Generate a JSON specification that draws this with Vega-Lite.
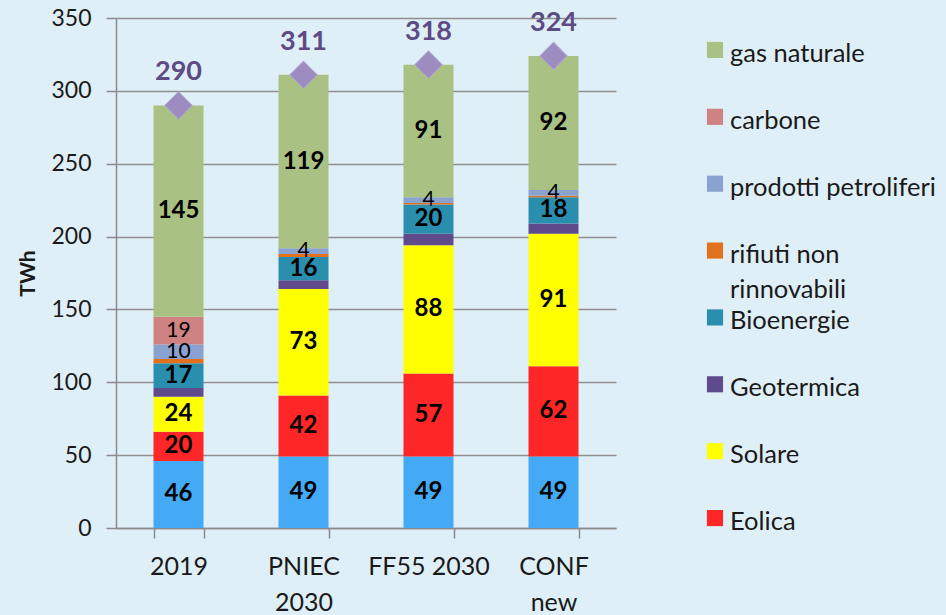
{
  "$schema": "https://vega.github.io/schema/vega-lite/v6.json",
  "autosize": "none",
  "padding": {"left": 116, "top": 18, "right": 830, "bottom": 597},
  "background": "#dfeff7",
  "config": {"font": "Lato", "view": {"stroke": null}},
  "bounds": "flush",
  "spacing": 99,
  "datasets": {
    "fonti": [
      {"scenario": "2019", "fonte": "Idroelettrica", "twh": 46},
      {"scenario": "2019", "fonte": "Eolica", "twh": 20},
      {"scenario": "2019", "fonte": "Solare", "twh": 24},
      {"scenario": "2019", "fonte": "Geotermica", "twh": 6},
      {"scenario": "2019", "fonte": "Bioenergie", "twh": 17},
      {"scenario": "2019", "fonte": "rifiuti non rinnovabili", "twh": 3},
      {"scenario": "2019", "fonte": "prodotti petroliferi", "twh": 10},
      {"scenario": "2019", "fonte": "carbone", "twh": 19},
      {"scenario": "2019", "fonte": "gas naturale", "twh": 145},
      {"scenario": "PNIEC 2030", "fonte": "Idroelettrica", "twh": 49},
      {"scenario": "PNIEC 2030", "fonte": "Eolica", "twh": 42},
      {"scenario": "PNIEC 2030", "fonte": "Solare", "twh": 73},
      {"scenario": "PNIEC 2030", "fonte": "Geotermica", "twh": 6},
      {"scenario": "PNIEC 2030", "fonte": "Bioenergie", "twh": 16},
      {"scenario": "PNIEC 2030", "fonte": "rifiuti non rinnovabili", "twh": 2},
      {"scenario": "PNIEC 2030", "fonte": "prodotti petroliferi", "twh": 4},
      {"scenario": "PNIEC 2030", "fonte": "carbone", "twh": 0},
      {"scenario": "PNIEC 2030", "fonte": "gas naturale", "twh": 119},
      {"scenario": "FF55 2030", "fonte": "Idroelettrica", "twh": 49},
      {"scenario": "FF55 2030", "fonte": "Eolica", "twh": 57},
      {"scenario": "FF55 2030", "fonte": "Solare", "twh": 88},
      {"scenario": "FF55 2030", "fonte": "Geotermica", "twh": 8},
      {"scenario": "FF55 2030", "fonte": "Bioenergie", "twh": 20},
      {"scenario": "FF55 2030", "fonte": "rifiuti non rinnovabili", "twh": 1},
      {"scenario": "FF55 2030", "fonte": "prodotti petroliferi", "twh": 4},
      {"scenario": "FF55 2030", "fonte": "carbone", "twh": 0},
      {"scenario": "FF55 2030", "fonte": "gas naturale", "twh": 91},
      {"scenario": "CONF new", "fonte": "Idroelettrica", "twh": 49},
      {"scenario": "CONF new", "fonte": "Eolica", "twh": 62},
      {"scenario": "CONF new", "fonte": "Solare", "twh": 91},
      {"scenario": "CONF new", "fonte": "Geotermica", "twh": 7},
      {"scenario": "CONF new", "fonte": "Bioenergie", "twh": 18},
      {"scenario": "CONF new", "fonte": "rifiuti non rinnovabili", "twh": 1},
      {"scenario": "CONF new", "fonte": "prodotti petroliferi", "twh": 4},
      {"scenario": "CONF new", "fonte": "carbone", "twh": 0},
      {"scenario": "CONF new", "fonte": "gas naturale", "twh": 92}
    ],
    "totali": [
      {"scenario": "2019", "totale": 290},
      {"scenario": "PNIEC 2030", "totale": 311},
      {"scenario": "FF55 2030", "totale": 318},
      {"scenario": "CONF new", "totale": 324}
    ],
    "legenda": [
      {"fonte": "gas naturale"},
      {"fonte": "carbone"},
      {"fonte": "prodotti petroliferi"},
      {"fonte": "rifiuti non rinnovabili"},
      {"fonte": "Bioenergie"},
      {"fonte": "Geotermica"},
      {"fonte": "Solare"},
      {"fonte": "Eolica"}
    ]
  },
  "hconcat": [
    {
      "width": 500,
      "height": 510,
      "view": {"stroke": null},
      "encoding": {
        "x": {
          "field": "scenario", "type": "nominal",
          "scale": {"domain": ["2019", "PNIEC 2030", "FF55 2030", "CONF new"], "paddingInner": 0.6, "paddingOuter": 0.3},
          "axis": {
            "title": null, "labelAngle": 0, "labelFontSize": 25, "labelColor": "#1a1a1a",
            "labelPadding": 16, "labelLineHeight": 36, "labelBaseline": "top",
            "tickBand": "extent", "tickSize": 10, "tickColor": "#8a8a8a", "tickWidth": 1.5,
            "domainColor": "#8a8a8a", "domainWidth": 1.5, "grid": false,
            "labelExpr": "datum.label == 'PNIEC 2030' ? ['PNIEC', '2030'] : datum.label == 'CONF new' ? ['CONF', 'new'] : datum.label"
          }
        }
      },
      "layer": [
        {
          "data": {"name": "fonti"},
          "transform": [
            {"calculate": "indexof(['Idroelettrica','Eolica','Solare','Geotermica','Bioenergie','rifiuti non rinnovabili','prodotti petroliferi','carbone','gas naturale'], datum.fonte)", "as": "ord"},
            {"stack": "twh", "groupby": ["scenario"], "sort": [{"field": "ord", "order": "ascending"}], "as": ["y0", "y1"]}
          ],
          "mark": {"type": "bar"},
          "encoding": {
            "y": {
              "field": "y0", "type": "quantitative",
              "scale": {"domain": [0, 350], "nice": false},
              "axis": {
                "title": "TWh", "titleFontSize": 21, "titleFontWeight": "bold", "titleColor": "#1a1a1a", "titlePadding": 12,
                "values": [0, 50, 100, 150, 200, 250, 300, 350],
                "labelFontSize": 23, "labelColor": "#1a1a1a", "labelPadding": 15,
                "tickSize": 10, "tickColor": "#8a8a8a", "tickWidth": 1.5,
                "domainColor": "#8a8a8a", "domainWidth": 1.5,
                "grid": true, "gridColor": "#8f8f8f", "gridWidth": 1.3
              }
            },
            "y2": {"field": "y1"},
            "color": {
              "field": "fonte", "type": "nominal",
              "scale": {
                "domain": ["gas naturale", "carbone", "prodotti petroliferi", "rifiuti non rinnovabili", "Bioenergie", "Geotermica", "Solare", "Eolica", "Idroelettrica"],
                "range": ["#a9c283", "#cf8282", "#8aa2cf", "#e2711d", "#2a8fae", "#5f4a8b", "#ffff00", "#fe2626", "#44aaf6"]
              },
              "legend": null
            }
          }
        },
        {
          "data": {"name": "fonti"},
          "transform": [
            {"calculate": "indexof(['Idroelettrica','Eolica','Solare','Geotermica','Bioenergie','rifiuti non rinnovabili','prodotti petroliferi','carbone','gas naturale'], datum.fonte)", "as": "ord"},
            {"stack": "twh", "groupby": ["scenario"], "sort": [{"field": "ord", "order": "ascending"}], "as": ["y0", "y1"]},
            {"calculate": "(datum.y0 + datum.y1) / 2", "as": "mid"},
            {"filter": "indexof(['Idroelettrica','Eolica','Solare','Bioenergie','gas naturale'], datum.fonte) >= 0"}
          ],
          "mark": {"type": "text", "fontSize": 24, "fontWeight": "bold", "color": "#000000", "baseline": "middle"},
          "encoding": {
            "y": {"field": "mid", "type": "quantitative"},
            "text": {"field": "twh", "type": "quantitative"}
          }
        },
        {
          "data": {"name": "fonti"},
          "transform": [
            {"calculate": "indexof(['Idroelettrica','Eolica','Solare','Geotermica','Bioenergie','rifiuti non rinnovabili','prodotti petroliferi','carbone','gas naturale'], datum.fonte)", "as": "ord"},
            {"stack": "twh", "groupby": ["scenario"], "sort": [{"field": "ord", "order": "ascending"}], "as": ["y0", "y1"]},
            {"calculate": "(datum.y0 + datum.y1) / 2", "as": "mid"},
            {"filter": "(datum.fonte == 'carbone' || datum.fonte == 'prodotti petroliferi') && datum.twh > 0"}
          ],
          "mark": {"type": "text", "fontSize": 21, "color": "#000000", "baseline": "middle"},
          "encoding": {
            "y": {"field": "mid", "type": "quantitative"},
            "text": {"field": "twh", "type": "quantitative"}
          }
        },
        {
          "data": {"name": "totali"},
          "mark": {"type": "point", "shape": "diamond", "filled": true, "size": 760, "color": "#9c8cc0", "stroke": "#b5a8d6", "strokeWidth": 1, "opacity": 1},
          "encoding": {
            "y": {"field": "totale", "type": "quantitative"}
          }
        },
        {
          "data": {"name": "totali"},
          "mark": {"type": "text", "fontSize": 27, "fontWeight": "bold", "color": "#5e4a84", "baseline": "middle", "dy": -33},
          "encoding": {
            "y": {"field": "totale", "type": "quantitative"},
            "text": {"field": "totale", "type": "quantitative"}
          }
        }
      ]
    },
    {
      "width": 220,
      "height": 532,
      "view": {"stroke": null, "fill": null},
      "data": {"name": "legenda"},
      "encoding": {
        "x": {"datum": 0, "type": "quantitative", "scale": {"domain": [0, 1]}, "axis": null},
        "y": {
          "field": "fonte", "type": "nominal", "sort": null,
          "scale": {"type": "point", "padding": 0.478, "domain": ["gas naturale", "carbone", "prodotti petroliferi", "rifiuti non rinnovabili", "Bioenergie", "Geotermica", "Solare", "Eolica"]},
          "axis": null
        }
      },
      "layer": [
        {
          "mark": {"type": "point", "shape": "square", "filled": true, "size": 260, "opacity": 1},
          "encoding": {"color": {"field": "fonte", "type": "nominal", "legend": null}}
        },
        {
          "transform": [
            {"calculate": "datum.fonte == 'rifiuti non rinnovabili' ? ['rifiuti non', 'rinnovabili'] : datum.fonte", "as": "etichetta"}
          ],
          "mark": {"type": "text", "align": "left", "baseline": "alphabetic", "dx": 15, "dy": 12, "fontSize": 25.5, "lineHeight": 35, "color": "#1a1a1a"},
          "encoding": {"text": {"field": "etichetta"}}
        }
      ]
    }
  ]
}
